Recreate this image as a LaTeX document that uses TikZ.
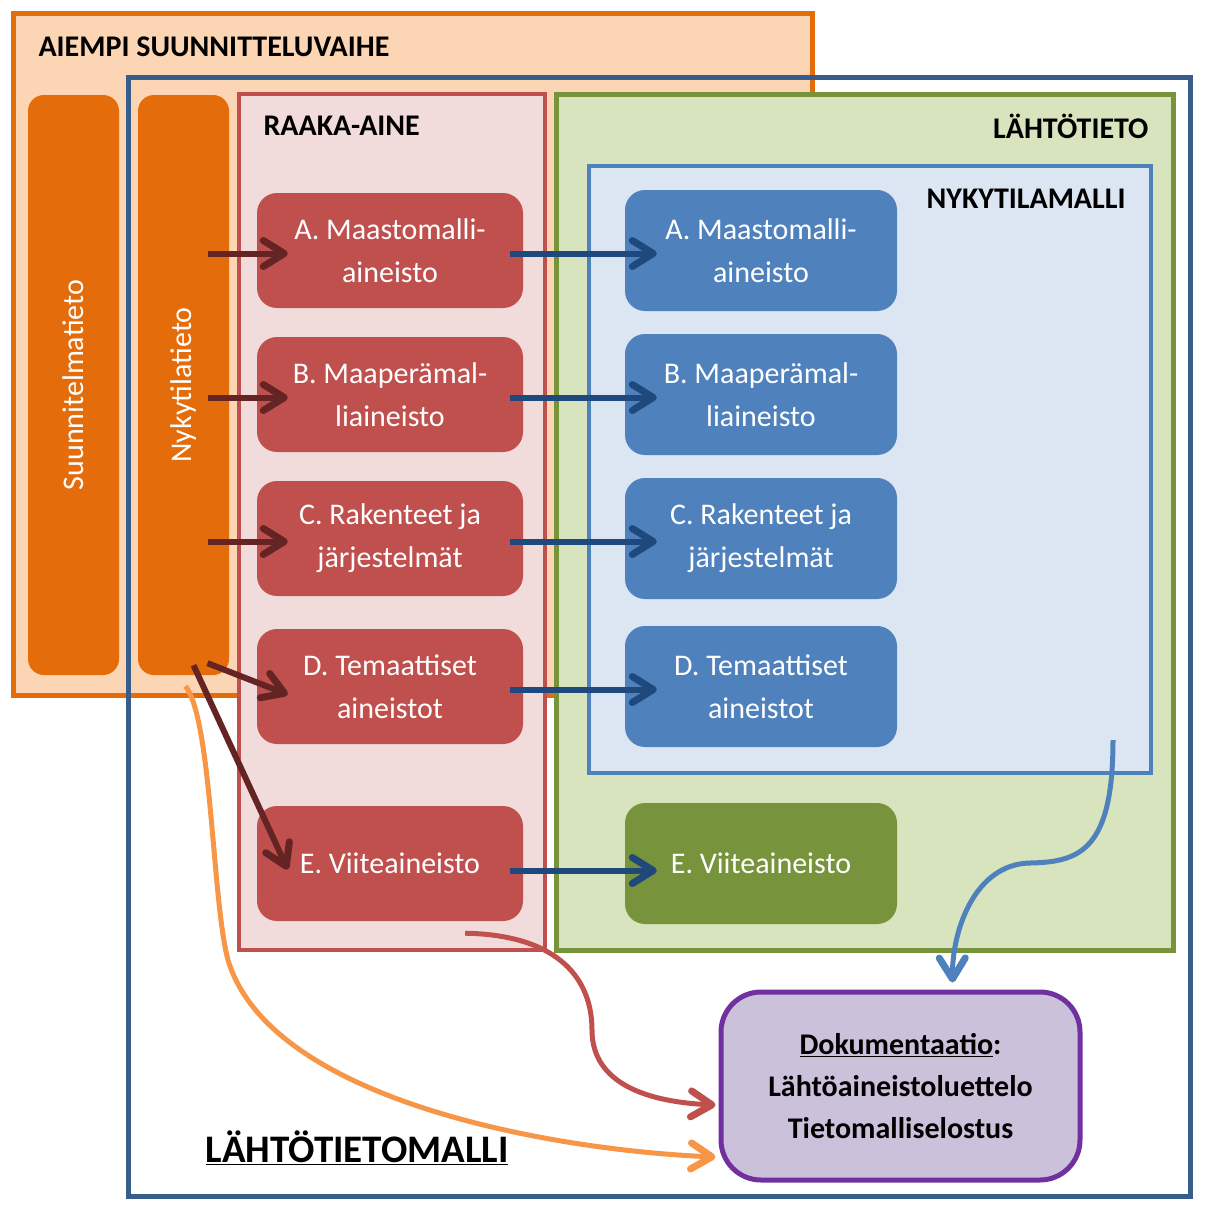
\documentclass[tikz,border=0pt]{standalone}
\usepackage{fontspec}
\setmainfont{Carlito}
\usetikzlibrary{arrows.meta,calc,positioning}

\definecolor{oranssi}{HTML}{E46C0A}
\definecolor{oranssivaalea}{HTML}{FCD5B5}
\definecolor{oranssikaari}{HTML}{F79646}
\definecolor{kehys}{HTML}{385D8A}
\definecolor{punainen}{HTML}{C0504D}
\definecolor{punainenvaalea}{HTML}{F2DCDB}
\definecolor{vihrea}{HTML}{77933C}
\definecolor{vihreavaalea}{HTML}{D7E4BD}
\definecolor{sininen}{HTML}{4F81BD}
\definecolor{sininenvaalea}{HTML}{DCE6F2}
\definecolor{violetti}{HTML}{7030A0}
\definecolor{violettivaalea}{HTML}{CCC1DA}
\definecolor{tummapunainen}{HTML}{632423}
\definecolor{tummasininen}{HTML}{1F497D}

\begin{document}
\begin{tikzpicture}[x=1pt,y=-1pt,
    every node/.style={font=\fontsize{30}{43}\selectfont},
    otsikko/.style={font=\fontsize{30}{36}\selectfont\bfseries},
    palkki/.style={fill=oranssi,rounded corners=16pt,minimum width=580pt,minimum height=91pt,text=white,rotate=90},
    raakabox/.style={fill=punainen,rounded corners=20pt,minimum width=266pt,minimum height=115pt,text=white,align=center},
    nykybox/.style={fill=sininen,rounded corners=20pt,minimum width=272pt,minimum height=121pt,text=white,align=center},
    nuoli/.style={line width=6pt,-{Straight Barb[length=21pt,width=26pt,line width=7pt,round]}},
    kaari/.style={line width=5pt,-{Straight Barb[length=21pt,width=26pt,line width=7pt,round]}}]
\useasboundingbox (0,0) rectangle (1205,1213);

% kehykset
\draw[oranssi,line width=5pt,fill=oranssivaalea] (13,13) rectangle (812,695);
\draw[kehys,line width=5pt] (128,77) rectangle (1190,1196);
\node[palkki] (suunnitelma) at (73.5,385) {Suunnitelmatieto};
\node[palkki] (nykytila) at (183.5,385) {Nykytilatieto};
\draw[punainen,line width=4pt,fill=punainenvaalea] (239,94) rectangle (545,950);
\draw[vihrea,line width=5pt,fill=vihreavaalea] (556,94) rectangle (1173,950);
\draw[sininen,line width=4pt,fill=sininenvaalea] (589,166) rectangle (1151,773);

% otsikot
\node[otsikko,anchor=west] (aiempi) at (35,47) {AIEMPI SUUNNITTELUVAIHE};
\node[otsikko,anchor=west] (raaka) at (260,126) {RAAKA-AINE};
\node[otsikko,anchor=east] (lahto) at (1152,126) {LÄHTÖTIETO};
\node[otsikko,anchor=east] (nykymalli) at (1129,199) {NYKYTILAMALLI};
\node[font=\fontsize{39}{44}\selectfont\bfseries] (malli) at (357,1148) {\underline{LÄHTÖTIETOMALLI}};

% raaka-aine
\node[raakabox] (ra) at (390,250.5) {A. Maastomalli-\\aineisto};
\node[raakabox] (rb) at (390,394.5) {B. Maaperämal-\\liaineisto};
\node[raakabox] (rc) at (390,538.5) {C. Rakenteet ja\\järjestelmät};
\node[raakabox] (rd) at (390,686.5) {D. Temaattiset\\aineistot};
\node[raakabox] (re) at (390,863.5) {E. Viiteaineisto};

% nykytilamalli
\node[nykybox] (sa) at (761,250.5) {A. Maastomalli-\\aineisto};
\node[nykybox] (sb) at (761,394.5) {B. Maaperämal-\\liaineisto};
\node[nykybox] (sc) at (761,538.5) {C. Rakenteet ja\\järjestelmät};
\node[nykybox] (sd) at (761,686.5) {D. Temaattiset\\aineistot};
\node[nykybox,fill=vihrea] (ge) at (761,863.5) {E. Viiteaineisto};

% dokumentaatio
\node[draw=violetti,line width=5pt,fill=violettivaalea,rounded corners=40pt,
      minimum width=359pt,minimum height=188pt,align=center,
      font=\fontsize{30}{42}\selectfont\bfseries] (doc) at (900.5,1086)
      {\underline{Dokumentaatio}:\\Lähtöaineistoluettelo\\Tietomalliselostus};

% nuolet (palkki on kierretty: south = oikea reuna, west = alareuna)
\foreach \r in {ra,rb,rc}
  \draw[nuoli,tummapunainen] ($(nykytila.south |- \r.west)+(-21,3)$) -- ($(\r.west)+(31,3)$);
\draw[nuoli,tummapunainen] ($(nykytila.west)+(24,-12)$) -- ($(rd.west)+(31,8)$);
\draw[nuoli,tummapunainen] ($(nykytila.west)+(10,-10)$) -- ($(re.west)+(31,6)$);
\foreach \r/\s in {ra/sa,rb/sb,rc/sc,rd/sd}
  \draw[nuoli,tummasininen] ($(\r.east)+(-13,3)$) -- ($(\s.west)+(32,3)$);
\draw[nuoli,tummasininen] ($(re.east)+(-13,7)$) -- ($(ge.west)+(32,7)$);

% kaaret
\coordinate (nykyala) at (1113,740);
\draw[kaari,sininen] (nykyala) .. controls (1113,850) and (1080,862) .. (1030,863)
  .. controls (975,864) and (952,930) .. ($(doc.north)+(52,-7)$);
\draw[kaari,punainen] ($(re.south east)+(-58,12)$) .. controls (560,935) and (592,980) .. (592,1030)
  .. controls (592,1085) and (650,1102) .. ($(doc.west)+(-3,19)$);
\draw[kaari,oranssikaari] ($(nykytila.west)+(2,11)$) .. controls (212,720) and (212,900) .. (228,960)
  .. controls (270,1100) and (550,1150) .. ($(doc.west)+(-3,71)$);
\end{tikzpicture}
\end{document}
